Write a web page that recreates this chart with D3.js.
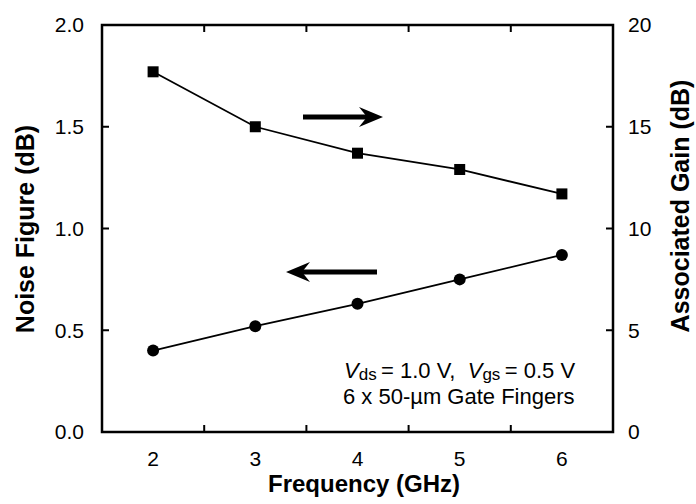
<!DOCTYPE html>
<html>
<head>
<meta charset="utf-8">
<script src="https://cdn.jsdelivr.net/npm/d3@7"></script>
<style>
body { margin: 0; background: #fff; }
text { font-family: "Liberation Sans", Arial, sans-serif; fill: #000; }
</style>
</head>
<body>
<svg width="696" height="504"></svg>
<script>
var svg = d3.select("svg");

// data
var freq = [2, 3, 4, 5, 6];
var noiseFigure = [0.40, 0.52, 0.63, 0.75, 0.87];
var assocGain = [17.7, 15.0, 13.7, 12.9, 11.7];
var xTickLabels = [2, 3, 4, 5, 6];
var xMinorTicks = [2.5, 3.5, 4.5, 5.5];
var nfTicks = [0.0, 0.5, 1.0, 1.5, 2.0];
var gainTicks = [0, 5, 10, 15, 20];

var plotLeft = 102, plotRight = 613, plotTop = 25, plotBottom = 432;

var x = d3.scaleLinear().domain([1.5, 6.5]).range([plotLeft, plotRight]);
var yL = d3.scaleLinear().domain([0, 2]).range([plotBottom, plotTop]);
var yR = d3.scaleLinear().domain([0, 20]).range([plotBottom, plotTop]);

// frame
svg.append("rect")
    .attr("x", plotLeft).attr("y", plotTop)
    .attr("width", plotRight - plotLeft).attr("height", plotBottom - plotTop)
    .attr("fill", "none").attr("stroke", "#000").attr("stroke-width", 2.5);

// ticks point inward
var tickLen = 7;
var g = svg.append("g").attr("stroke", "#000").attr("stroke-width", 2);
g.selectAll(".tl").data(nfTicks.slice(1, -1)).enter().append("line")
    .attr("x1", plotLeft).attr("x2", plotLeft + tickLen)
    .attr("y1", function(d) { return yL(d); })
    .attr("y2", function(d) { return yL(d); });
g.selectAll(".tr").data(gainTicks.slice(1, -1)).enter().append("line")
    .attr("x1", plotRight).attr("x2", plotRight - tickLen)
    .attr("y1", function(d) { return yR(d); })
    .attr("y2", function(d) { return yR(d); });
g.selectAll(".tb").data(xMinorTicks).enter().append("line")
    .attr("x1", function(d) { return x(d); })
    .attr("x2", function(d) { return x(d); })
    .attr("y1", plotBottom).attr("y2", plotBottom - tickLen);
g.selectAll(".tt").data(xMinorTicks).enter().append("line")
    .attr("x1", function(d) { return x(d); })
    .attr("x2", function(d) { return x(d); })
    .attr("y1", plotTop).attr("y2", plotTop + tickLen);

// tick labels
svg.selectAll(".ll").data(nfTicks).enter().append("text")
    .attr("x", plotLeft - 18).attr("y", function(d) { return yL(d); })
    .attr("dy", "0.35em").attr("text-anchor", "end")
    .style("font-size", "21px")
    .text(function(d) { return d.toFixed(1); });
svg.selectAll(".rl").data(gainTicks).enter().append("text")
    .attr("x", plotRight + 15).attr("y", function(d) { return yR(d); })
    .attr("dy", "0.35em").attr("text-anchor", "start")
    .style("font-size", "21px")
    .text(function(d) { return d; });
svg.selectAll(".bl").data(xTickLabels).enter().append("text")
    .attr("x", function(d) { return x(d); }).attr("y", 466)
    .attr("text-anchor", "middle")
    .style("font-size", "21px")
    .text(function(d) { return d; });

// axis titles
svg.append("text")
    .attr("transform", "translate(34,229) rotate(-90)")
    .attr("text-anchor", "middle").style("font-size", "25px").style("font-weight", "bold")
    .text("Noise Figure (dB)");
svg.append("text")
    .attr("transform", "translate(689,206) rotate(-90)")
    .attr("text-anchor", "middle").style("font-size", "25px").style("font-weight", "bold")
    .text("Associated Gain (dB)");
svg.append("text")
    .attr("x", 364).attr("y", 492)
    .attr("text-anchor", "middle").style("font-size", "24px").style("font-weight", "bold")
    .text("Frequency (GHz)");

// series
var nfData = freq.map(function(f, i) { return {f: f, v: noiseFigure[i]}; });
var gainData = freq.map(function(f, i) { return {f: f, v: assocGain[i]}; });

svg.append("path").datum(nfData)
    .attr("fill", "none").attr("stroke", "#000").attr("stroke-width", 1.8)
    .attr("d", d3.line().x(function(d) { return x(d.f); }).y(function(d) { return yL(d.v); }));
svg.append("path").datum(gainData)
    .attr("fill", "none").attr("stroke", "#000").attr("stroke-width", 1.8)
    .attr("d", d3.line().x(function(d) { return x(d.f); }).y(function(d) { return yR(d.v); }));

svg.selectAll(".nf").data(nfData).enter().append("circle")
    .attr("cx", function(d) { return x(d.f); })
    .attr("cy", function(d) { return yL(d.v); })
    .attr("r", 6).attr("fill", "#000");
svg.selectAll(".ag").data(gainData).enter().append("rect")
    .attr("x", function(d) { return x(d.f) - 5.5; })
    .attr("y", function(d) { return yR(d.v) - 5.5; })
    .attr("width", 11).attr("height", 11).attr("fill", "#000");

// arrows pointing to each curve's axis
function arrow(x1, x2, y) {
    var dir = x2 > x1 ? 1 : -1;
    svg.append("line")
        .attr("x1", x1).attr("x2", x2 - dir * 14).attr("y1", y).attr("y2", y)
        .attr("stroke", "#000").attr("stroke-width", 5);
    svg.append("path")
        .attr("d", "M" + x2 + "," + y + " L" + (x2 - dir * 24) + "," + (y - 10) +
              " L" + (x2 - dir * 16) + "," + y + " L" + (x2 - dir * 24) + "," + (y + 10) + " Z")
        .attr("fill", "#000");
}
arrow(303, 383, 117);
arrow(377, 286, 272);

// annotation
var ann = svg.append("text").attr("x", 344).attr("y", 378).style("font-size", "22px");
ann.append("tspan").style("font-style", "italic").text("V");
ann.append("tspan").attr("dy", 2).style("font-size", "17px").text("ds");
ann.append("tspan").attr("dy", -2).text("\u2009= 1.0 V,\u00a0\u00a0");
ann.append("tspan").style("font-style", "italic").text("V");
ann.append("tspan").attr("dy", 2).style("font-size", "17px").text("gs");
ann.append("tspan").attr("dy", -2).text("\u2009= 0.5 V");
svg.append("text").attr("x", 343).attr("y", 404).style("font-size", "22px")
    .text("6 x 50-\u00b5m Gate Fingers");
</script>
</body>
</html>
